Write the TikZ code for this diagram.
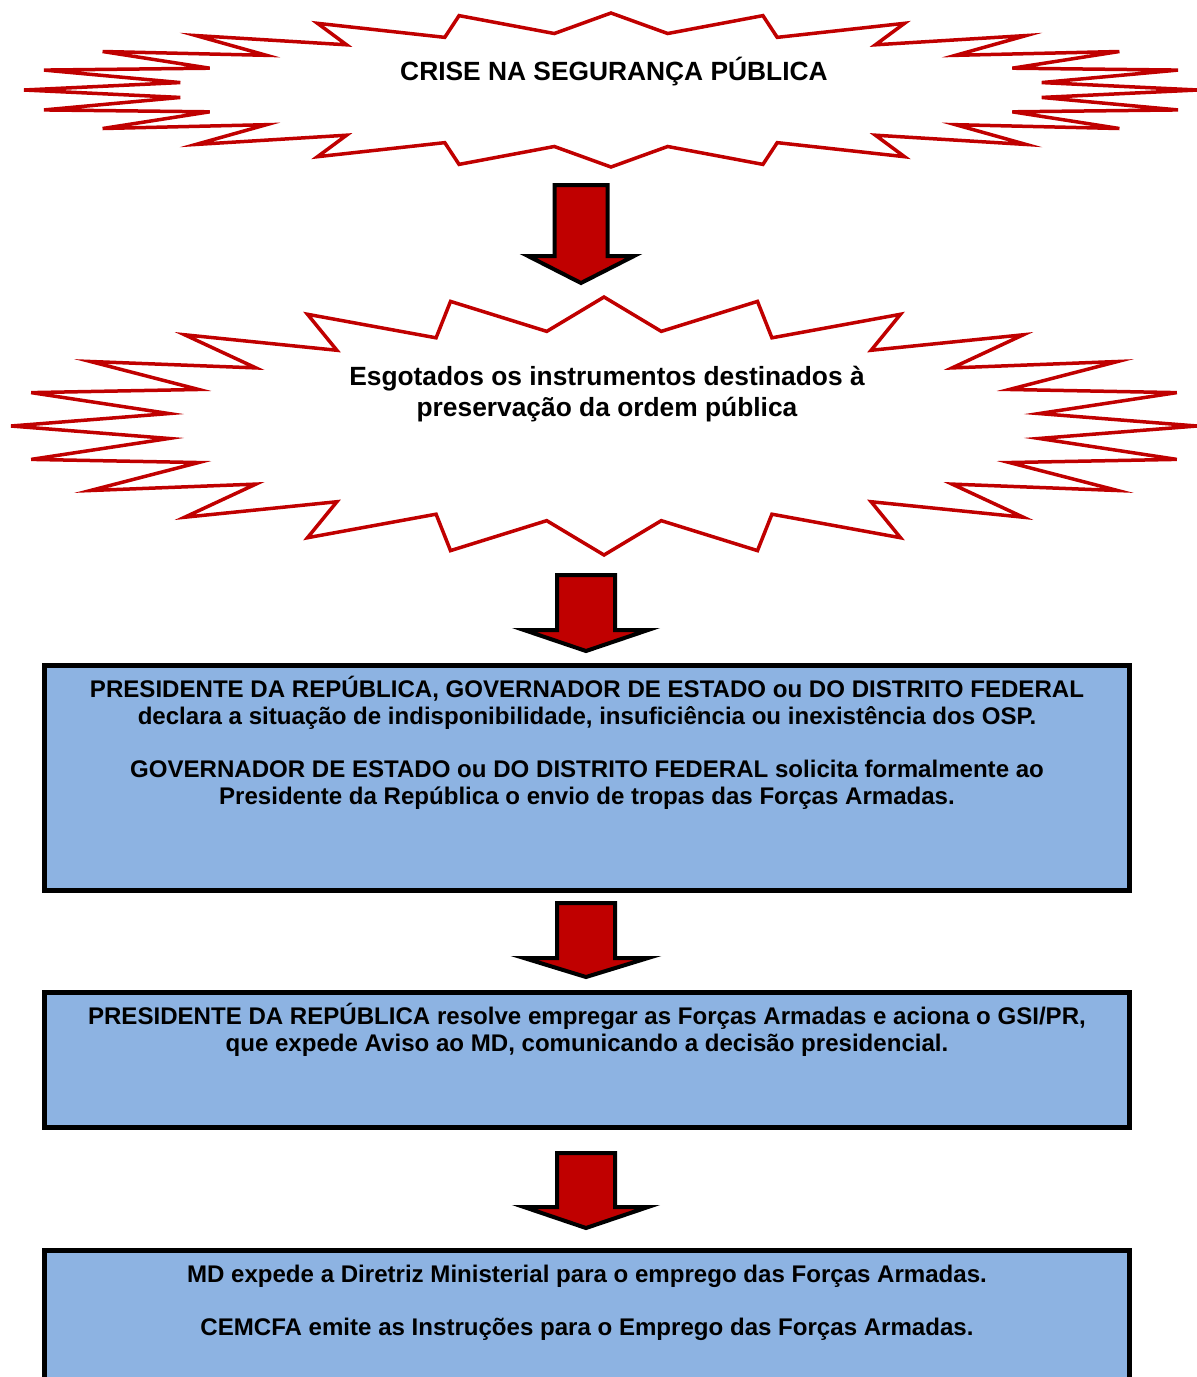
\documentclass[tikz,border=0pt]{standalone}
\usepackage{fontspec}
\setmainfont{Liberation Sans}
\usetikzlibrary{positioning}
\definecolor{burstred}{HTML}{C00000}
\definecolor{boxblue}{HTML}{8DB3E2}

\begin{document}
\begin{tikzpicture}[
    x=0.02cm, y=-0.02cm,
    burst/.style={draw=burstred, line width=0.07cm, fill=white, line join=miter},
    bursttext/.style={align=center, font=\fontsize{15}{17.2}\selectfont\bfseries},
    infobox/.style={draw=black, line width=0.1cm, fill=boxblue, minimum width=21.72cm, anchor=north},
    boxtext/.style={align=center, font=\fontsize{13.7}{15.6}\selectfont\bfseries},
    pics/fatarrow/.style n args={4}{code={
      \draw[draw=black, line width=0.08cm, fill=burstred, line join=miter]
        (-#1,0) -- (-#1,#3) -- (-#2,#3) -- (0,#4) -- (#2,#3) -- (#1,#3) -- (#1,0) -- cycle;}}
  ]
  \useasboundingbox (0,0) rectangle (1197,1377);
  \clip (0,0) rectangle (1197,1377);

  % explosions
  \draw[burst, shift={(611,90)}] (0:587 and 77)
    \foreach \k [evaluate=\k as \rf using {1-0.26*mod(\k,2)}] in {1,...,47} { -- (\k*7.5:\rf*587 and \rf*77) } -- cycle;
  \draw[burst, shift={(604,426)}] (0:593 and 129)
    \foreach \k [evaluate=\k as \rf using {1-0.26*mod(\k,2)}] in {1,...,47} { -- (\k*7.5:\rf*593 and \rf*129) } -- cycle;

  \node[bursttext] (crise) at (614,72) {CRISE NA SEGURANÇA PÚBLICA};
  \node[bursttext] (esgot) at (607,394) {Esgotados os instrumentos destinados à\\preservação da ordem pública};

  % boxes
  \node[infobox, minimum height=4.5cm] (decl) at (587,663) {};
  \node[infobox, minimum height=2.7cm] (pres) at (587,990) {};
  \node[infobox, minimum height=4cm] (md) at (587,1248) {};

  \node[boxtext, below=0.13cm of decl.north] (decltext) {PRESIDENTE DA REPÚBLICA, GOVERNADOR DE ESTADO ou DO DISTRITO FEDERAL\\declara a situação de indisponibilidade, insuficiência ou inexistência dos OSP.\\[14.5pt]GOVERNADOR DE ESTADO ou DO DISTRITO FEDERAL solicita formalmente ao\\Presidente da República o envio de tropas das Forças Armadas.};
  \node[boxtext, below=0.13cm of pres.north] (prestext) {PRESIDENTE DA REPÚBLICA resolve empregar as Forças Armadas e aciona o GSI/PR,\\que expede Aviso ao MD, comunicando a decisão presidencial.};
  \node[boxtext, below=0.22cm of md.north] (mdtext) {MD expede a Diretriz Ministerial para o emprego das Forças Armadas.\\[14.5pt]CEMCFA emite as Instruções para o Emprego das Forças Armadas.};

  % block arrows
  \coordinate (arr1) at (581,185);
  \coordinate (arr2) at (586,575);
  \coordinate (arr3) at (586,903);
  \coordinate (arr4) at (586,1153);
  \pic at (arr1) {fatarrow={26.5}{53}{71}{98}};
  \pic at (arr2) {fatarrow={29}{62}{55}{76}};
  \pic at (arr3) {fatarrow={29}{62}{55}{74}};
  \pic at (arr4) {fatarrow={29}{62}{54}{75}};
\end{tikzpicture}
\end{document}
